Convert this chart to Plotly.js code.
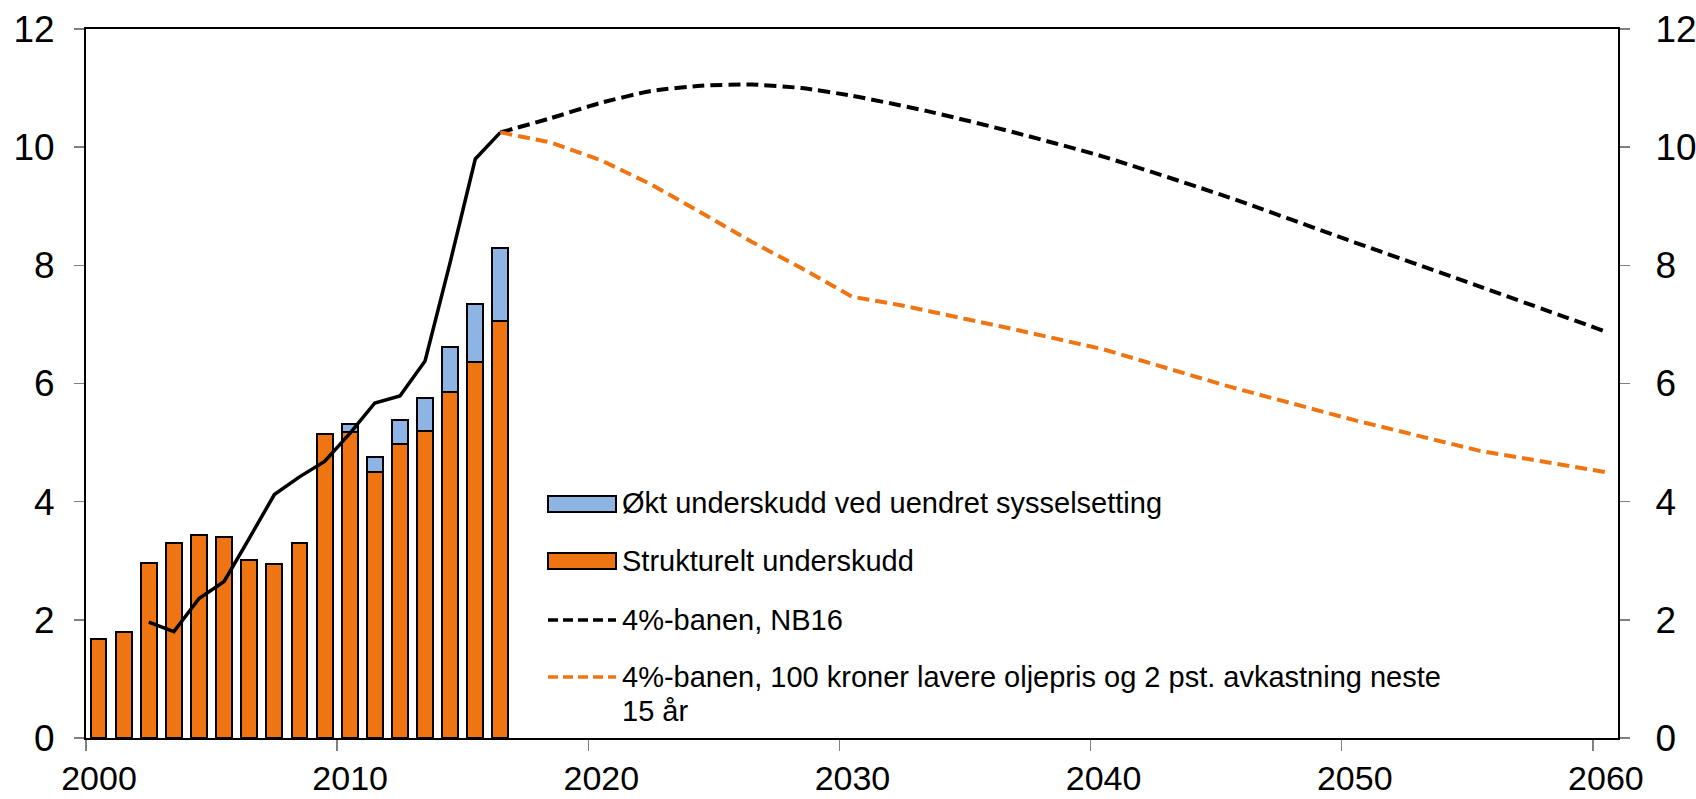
<!DOCTYPE html>
<html>
<head>
<meta charset="utf-8">
<script src="https://cdn.plot.ly/plotly-3.0.1.min.js"></script>
<style>
  html, body { margin: 0; padding: 0; background: #fff; }
  #chart { width: 1696px; height: 799px; }
</style>
</head>
<body>
<div id="chart"></div>
<script>
// ---------- DATA ----------
const barYears = [2000, 2001, 2002, 2003, 2004, 2005, 2006, 2007, 2008, 2009, 2010, 2011, 2012, 2013, 2014, 2015, 2016];
const strukturelt = [1.68, 1.79, 2.96, 3.30, 3.43, 3.40, 3.01, 2.94, 3.30, 5.14, 5.18, 4.50, 4.98, 5.19, 5.85, 6.37, 7.06];
const oktUnderskudd = [null, null, null, null, null, null, null, null, null, null, 0.14, 0.25, 0.40, 0.56, 0.76, 0.98, 1.24];

const faktiskYears = [2002, 2003, 2004, 2005, 2006, 2007, 2008, 2009, 2010, 2011, 2012, 2013, 2014, 2015, 2016];
const faktisk = [1.96, 1.80, 2.36, 2.65, 3.38, 4.12, 4.42, 4.68, 5.15, 5.67, 5.79, 6.38, 8.05, 9.80, 10.25];

const nb16Years = [2016, 2018, 2020, 2022, 2024, 2026, 2028, 2030, 2033, 2036, 2040, 2045, 2050, 2055, 2060];
const nb16 = [10.25, 10.49, 10.75, 10.95, 11.04, 11.06, 11.00, 10.87, 10.61, 10.30, 9.84, 9.15, 8.39, 7.64, 6.88];

const lavYears = [2016, 2018, 2020, 2022, 2024, 2026, 2028, 2030, 2032, 2036, 2040, 2045, 2050, 2055, 2060];
const lav = [10.25, 10.08, 9.78, 9.37, 8.89, 8.40, 7.95, 7.47, 7.32, 6.96, 6.58, 5.95, 5.38, 4.86, 4.50];

const xTicks = [2000, 2010, 2020, 2030, 2040, 2050, 2060];
const legendLabels = [
  'Økt underskudd ved uendret sysselsetting',
  'Strukturelt underskudd',
  '4%-banen, NB16',
  '4%-banen, 100 kroner lavere oljepris og 2 pst. avkastning neste',
  '15 år'
];

// ---------- STYLE ----------
const ORANGE = '#EF7513';
const BLUE = '#8DB4E2';
const FONT = 'Liberation Sans, Arial, sans-serif';
const mid = ys => ys.map(y => y + 0.5);

const W = 1696, H = 799;
const M = { l: 86, r: 78, t: 29, b: 61 };
const PL = M.l, PR = W - M.r, PT = M.t, PB = H - M.b;
const px = x => (x - PL) / (PR - PL);
const py = y => (PB - y) / (PB - PT);

const traces = [
  {
    type: 'bar', x: mid(barYears), y: strukturelt, width: 0.63,
    marker: { color: ORANGE, line: { color: '#000', width: 2 } },
    name: legendLabels[1], hoverinfo: 'x+y'
  },
  {
    type: 'bar', x: mid(barYears), y: oktUnderskudd, width: 0.63,
    marker: { color: BLUE, line: { color: '#000', width: 2 } },
    name: legendLabels[0], hoverinfo: 'x+y'
  },
  {
    type: 'scatter', mode: 'lines', x: mid(faktiskYears), y: faktisk,
    line: { color: '#000', width: 3.5 }, name: 'Faktisk'
  },
  {
    type: 'scatter', mode: 'lines', x: mid(nb16Years), y: nb16, yaxis: 'y2',
    line: { color: '#000', width: 4, dash: '12px,6px', shape: 'spline', smoothing: 0.6 },
    name: legendLabels[2]
  },
  {
    type: 'scatter', mode: 'lines', x: mid(lavYears), y: lav, yaxis: 'y2',
    line: { color: ORANGE, width: 4, dash: '12px,6px' },
    name: legendLabels[3]
  }
];

const axisY = {
  range: [0, 12], dtick: 2, tick0: 0,
  ticks: 'outside', ticklen: 10, tickwidth: 1.5, tickcolor: '#808080',
  showline: true, linecolor: '#000', linewidth: 2,
  showgrid: false, zeroline: false,
  tickfont: { family: FONT, size: 37, color: '#000' },
  ticklabelstandoff: 12, fixedrange: true
};

const shapes = [
  { type: 'rect', xref: 'paper', yref: 'paper', x0: px(548), x1: px(616), y0: py(512), y1: py(496),
    fillcolor: BLUE, line: { color: '#000', width: 2 } },
  { type: 'rect', xref: 'paper', yref: 'paper', x0: px(548), x1: px(616), y0: py(569), y1: py(553),
    fillcolor: ORANGE, line: { color: '#000', width: 2 } },
  { type: 'line', xref: 'paper', yref: 'paper', x0: px(548), x1: px(616), y0: py(620), y1: py(620),
    line: { color: '#000', width: 3.5, dash: '10px,5px' } },
  { type: 'line', xref: 'paper', yref: 'paper', x0: px(548), x1: px(616), y0: py(677), y1: py(677),
    line: { color: ORANGE, width: 3.5, dash: '10px,5px' } }
];

const legFont = { family: FONT, size: 29, color: '#000' };
const annRows = [[0, 503], [1, 561], [2, 620], [3, 677], [4, 711]];
const annotations = annRows.map(([i, y]) => ({
  xref: 'paper', yref: 'paper', x: px(620), y: py(y),
  xanchor: 'left', yanchor: 'middle', showarrow: false, align: 'left',
  text: legendLabels[i], font: legFont
}));

const layout = {
  width: W, height: H,
  margin: { l: M.l, r: M.r, t: M.t, b: M.b, pad: 0 },
  paper_bgcolor: '#fff', plot_bgcolor: '#fff',
  showlegend: false, barmode: 'stack',
  font: { family: FONT, color: '#000' },
  xaxis: {
    range: [2000, 2061], tickvals: xTicks, ticktext: xTicks.map(String),
    ticks: 'outside', ticklen: 11, tickwidth: 1.5, tickcolor: '#808080',
    showline: true, linecolor: '#000', linewidth: 2, mirror: true,
    showgrid: false, zeroline: false,
    tickfont: { family: FONT, size: 34, color: '#000' },
    ticklabelshift: 13, ticklabelstandoff: -2, fixedrange: true
  },
  yaxis: Object.assign({}, axisY),
  yaxis2: Object.assign({}, axisY, { overlaying: 'y', side: 'right', ticklabelstandoff: 18 }),
  shapes: shapes,
  annotations: annotations
};

Plotly.newPlot('chart', traces, layout, { displayModeBar: false, staticPlot: true });
</script>
</body>
</html>
